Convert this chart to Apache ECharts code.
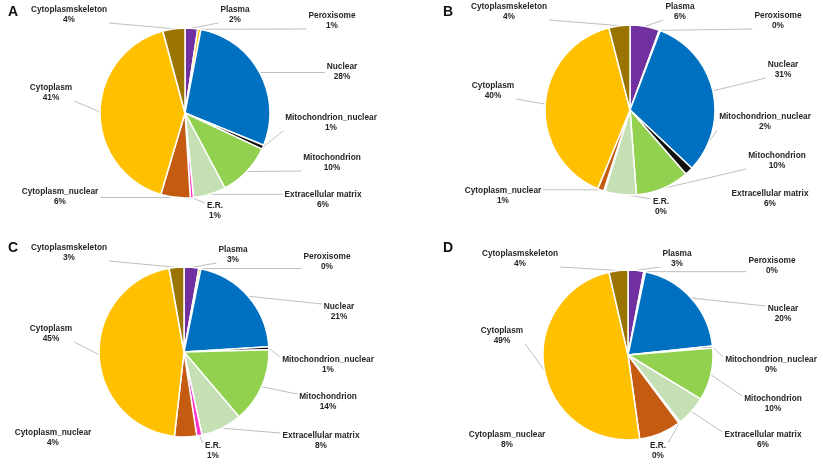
<!DOCTYPE html>
<html>
<head>
<meta charset="utf-8">
<script src="https://cdn.jsdelivr.net/npm/echarts@6/dist/echarts.min.js"></script>
<style>
html,body{margin:0;padding:0;background:#fff;}
#chart{width:823px;height:468px;}
</style>
</head>
<body>
<div id="chart"></div>
<script>
// ---- data ----
const categories = ['Plasma','Peroxisome','Nuclear','Mitochondrion_nuclear','Mitochondrion','Extracellular matrix','E.R.','Cytoplasm_nuclear','Cytoplasm','Cytoplasmskeleton'];
const valuesA = [2.4, 0.6, 28.2, 0.8, 10.2, 6.2, 0.6, 5.6, 41.2, 4.2];
const valuesB = [5.6, 0.2, 31.2, 1.6, 10.2, 6.0, 0.2, 1.2, 39.8, 4.0];
const valuesC = [2.8, 0.4, 20.8, 0.6, 14.2, 7.8, 1.0, 4.2, 45.4, 2.8];
const valuesD = [3.0, 0.3, 20.0, 0.4, 10.0, 5.8, 0.3, 8.0, 48.6, 3.6];
const panelLetters = ['A','B','C','D'];

// ---- layout / style ----
const colors = ['#7030A0','#FFC000','#0070C0','#111111','#92D050','#C5E0B4','#FF33CC','#C55A11','#FFC000','#9A7400'];
const panels = [
  {values: valuesA, center: [185,113], letter: [8,5],
   labels: [[235,15],[332,21],[342,72],[331,123],[332,163],[323,200],[215,211],[60,197],[51,93],[69,15]], hide: []},
  {values: valuesB, center: [630,110], letter: [443,5],
   labels: [[680,12],[778,21],[783,70],[765,122],[777,161],[770,199],[661,207],[503,196],[493,91],[509,12]], hide: [5]},
  {values: valuesC, center: [184,352], letter: [8,241],
   labels: [[233,255],[327,262],[339,312],[328,365],[328,402],[321,441],[213,451],[53,438],[51,334],[69,253]], hide: [7]},
  {values: valuesD, center: [628,355], letter: [443,241],
   labels: [[677,259],[772,266],[783,314],[771,365],[773,404],[763,440],[658,451],[507,440],[502,336],[520,259]], hide: [7]}
];

const chart = echarts.init(document.getElementById('chart'), null, {renderer: 'canvas'});

function clamp(v, a, b) { return Math.max(a, Math.min(b, v)); }

const series = panels.map(function(p, si) {
  return {
    type: 'pie',
    center: p.center,
    radius: 85,
    startAngle: 90,
    clockwise: true,
    avoidLabelOverlap: false,
    silent: true,
    itemStyle: {borderColor: '#ffffff', borderWidth: 1.5},
    label: {
      show: true,
      position: 'outside',
      formatter: function(d) { return d.name + '\n' + Math.round(d.percent) + '%'; },
      fontFamily: 'Liberation Sans, Arial, sans-serif',
      fontSize: 8.3,
      fontWeight: 'bold',
      color: '#262626',
      lineHeight: 10,
      align: 'center'
    },
    labelLine: {show: true, length: 8, length2: 8, lineStyle: {color: '#bfbfbf', width: 1}},
    labelLayout: function(params) {
      const xy = p.labels[params.dataIndex];
      const out = {x: xy[0], y: xy[1], align: 'center', verticalAlign: 'middle'};
      const pts = params.labelLinePoints;
      if (pts && pts.length) {
        const s = pts[0];
        const w = params.labelRect.width, h = params.labelRect.height;
        const x0 = xy[0] - w / 2 - 2, x1 = xy[0] + w / 2 + 2;
        const y0 = xy[1] - h / 2 + 2, y1 = xy[1] + h / 2 - 2;
        let ex, ey;
        if (s[0] < x0 || s[0] > x1) {
          ex = s[0] < x0 ? x0 : x1;
          ey = clamp(s[1], y0, y1);
        } else {
          ex = clamp(s[0], x0, x1);
          ey = s[1] < y0 ? y0 - 2 : y1 + 2;
        }
        out.labelLinePoints = [[s[0], s[1]], [ex, ey]];
      }
      return out;
    },
    emphasis: {disabled: true},
    data: categories.map(function(name, i) {
      const item = {name: name, value: p.values[i], itemStyle: {color: colors[i]}};
      if (p.hide.indexOf(i) >= 0) item.labelLine = {show: false};
      return item;
    })
  };
});

chart.setOption({
  animation: false,
  backgroundColor: '#ffffff',
  graphic: panels.map(function(p, i) {
    return {
      type: 'text',
      left: p.letter[0],
      top: p.letter[1],
      style: {text: panelLetters[i], fontFamily: 'Liberation Sans, Arial, sans-serif', fontSize: 14, fontWeight: 'bold', fill: '#111'}
    };
  }),
  series: series
});
</script>
</body>
</html>
